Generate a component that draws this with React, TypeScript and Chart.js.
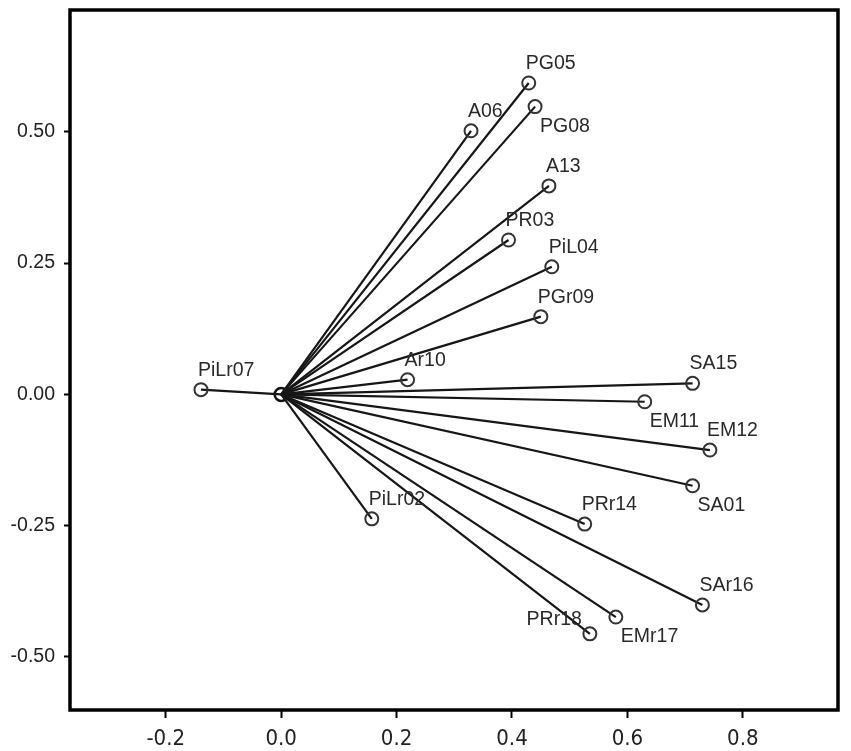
import React, { useEffect, useRef } from "react";
import { Chart, registerables } from "chart.js";

Chart.register(...registerables);

// ---- data ----
const variableNames = [
  "PG05", "A06", "PG08", "A13", "PR03", "PiL04", "PGr09", "Ar10", "SA15",
  "EM11", "EM12", "SA01", "PRr14", "SAr16", "EMr17", "PRr18", "PiLr02", "PiLr07",
];
const xValues = [
  0.429, 0.329, 0.44, 0.464, 0.394, 0.469, 0.45, 0.219, 0.713,
  0.63, 0.743, 0.713, 0.526, 0.73, 0.58, 0.535, 0.157, -0.139,
];
const yValues = [
  0.593, 0.502, 0.548, 0.397, 0.294, 0.243, 0.148, 0.028, 0.021,
  -0.014, -0.106, -0.174, -0.247, -0.401, -0.424, -0.456, -0.237, 0.009,
];
// label side relative to marker: ne = above-right, se = below-right, nw = above-left
const labelSides = [
  "ne", "ne", "se", "ne", "ne", "ne", "ne", "ne", "ne",
  "se", "ne", "se", "ne", "ne", "se", "nw", "ne", "ne",
];
const xTickValues = [-0.2, 0.0, 0.2, 0.4, 0.6, 0.8];
const yTickValues = [-0.5, -0.25, 0.0, 0.25, 0.5];
const xRange = [-0.366, 0.965];
const yRange = [-0.601, 0.732];

const LABEL_FONT = '19.5px "Liberation Sans", Arial, sans-serif';

const labelPlugin = {
  id: "varLabels",
  afterDatasetsDraw(chart: any) {
    const ctx = chart.ctx;
    ctx.save();
    ctx.font = LABEL_FONT;
    ctx.fillStyle = "#2a2a2a";
    ctx.textBaseline = "alphabetic";
    variableNames.forEach((name, i) => {
      const meta = chart.getDatasetMeta(i);
      const pt = meta.data[1];
      if (!pt) return;
      const side = labelSides[i];
      if (side === "se") {
        ctx.textAlign = "left";
        ctx.fillText(name, pt.x + 5, pt.y + 25);
      } else if (side === "nw") {
        ctx.textAlign = "right";
        ctx.fillText(name, pt.x - 8, pt.y - 9);
      } else {
        ctx.textAlign = "left";
        ctx.fillText(name, pt.x - 3, pt.y - 14);
      }
    });
    ctx.restore();
  },
};

const framePlugin = {
  id: "frame",
  afterDraw(chart: any) {
    const { ctx, chartArea } = chart;
    ctx.save();
    ctx.strokeStyle = "#000";
    ctx.lineWidth = 3.5;
    ctx.strokeRect(
      chartArea.left,
      chartArea.top,
      chartArea.right - chartArea.left,
      chartArea.bottom - chartArea.top
    );
    ctx.restore();
  },
};

export default function App() {
  const canvasRef = useRef<HTMLCanvasElement | null>(null);

  useEffect(() => {
    if (!canvasRef.current) return;
    const lineSets: any[] = variableNames.map((name, i) => ({
      label: name,
      data: [
        { x: 0, y: 0 },
        { x: xValues[i], y: yValues[i] },
      ],
      showLine: true,
      borderColor: "#161616",
      borderWidth: 2.2,
      pointRadius: [0, 6.5],
      pointHoverRadius: [0, 6.5],
      pointBorderColor: "#333",
      pointBackgroundColor: "rgba(0,0,0,0)",
      pointBorderWidth: 2,
    }));
    lineSets.push({
      label: "origin",
      data: [{ x: 0, y: 0 }],
      showLine: false,
      pointRadius: 6.5,
      pointBorderColor: "#111",
      pointBackgroundColor: "rgba(0,0,0,0)",
      pointBorderWidth: 2.5,
    });

    const chart = new Chart(canvasRef.current, {
      type: "scatter",
      data: { datasets: lineSets },
      options: {
        animation: false,
        responsive: false,
        maintainAspectRatio: false,
        layout: { padding: { left: 0, right: 13, top: 10, bottom: 0 } },
        plugins: {
          legend: { display: false },
          tooltip: { enabled: false },
        },
        scales: {
          x: {
            type: "linear",
            min: xRange[0],
            max: xRange[1],
            afterBuildTicks: (s: any) => {
              s.ticks = xTickValues.map((v) => ({ value: v }));
            },
            afterFit: (s: any) => {
              s.height = 41;
              s.paddingLeft = 0;
              s.paddingRight = 0;
            },
            ticks: {
              autoSkip: false,
              maxRotation: 0,
              padding: 8,
              color: "#222",
              font: { family: '"Liberation Sans Narrow", "DejaVu Sans Condensed", Arial, sans-serif', size: 22 },
              callback: (v: any) => Number(v).toFixed(1),
            },
            grid: {
              display: true,
              drawOnChartArea: false,
              drawTicks: true,
              tickLength: 8,
              tickWidth: 2,
              tickColor: "#000",
            },
            border: { display: false },
          },
          y: {
            type: "linear",
            min: yRange[0],
            max: yRange[1],
            afterBuildTicks: (s: any) => {
              s.ticks = yTickValues.map((v) => ({ value: v }));
            },
            afterFit: (s: any) => {
              s.width = 70;
              s.paddingTop = 0;
              s.paddingBottom = 0;
            },
            ticks: {
              autoSkip: false,
              padding: 9,
              color: "#222",
              font: { family: '"Liberation Sans", Arial, sans-serif', size: 19.5 },
              callback: (v: any) => Number(v).toFixed(2),
            },
            grid: {
              display: true,
              drawOnChartArea: false,
              drawTicks: true,
              tickLength: 6,
              tickWidth: 2,
              tickColor: "#000",
            },
            border: { display: false },
          },
        },
      },
      plugins: [labelPlugin, framePlugin],
    });
    return () => chart.destroy();
  }, []);

  return (
    <div
      style={{
        position: "fixed",
        left: 0,
        top: 0,
        width: 851,
        height: 751,
        background: "#fff",
      }}
    >
      <canvas ref={canvasRef} width={851} height={751} style={{ display: "block" }} />
    </div>
  );
}
